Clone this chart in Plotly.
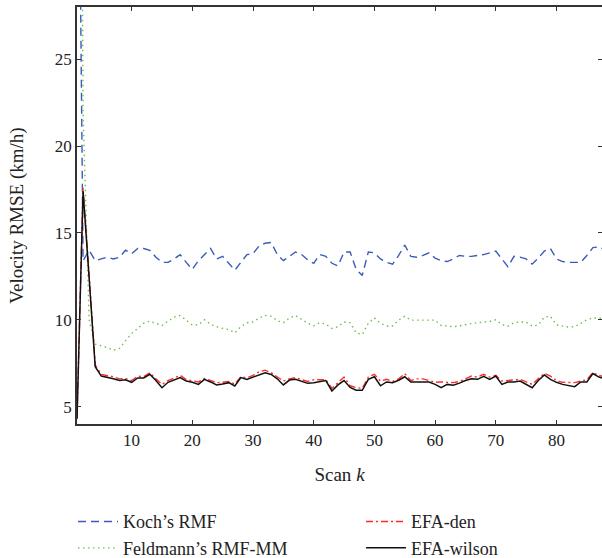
import plotly.graph_objects as go

scan_k = list(range(1, 89))

koch_rmf = [50.0, 13.4, 14.0, 13.4, 13.5, 13.6, 13.5, 13.6, 14.0, 13.8,
            14.1, 14.1, 14.0, 13.6, 13.3, 13.3, 13.5, 13.75, 13.3, 12.9,
            13.4, 13.75, 14.1, 13.5, 13.65, 13.25, 12.85, 13.3, 13.75, 13.8,
            14.25, 14.4, 14.45, 13.75, 13.4, 13.65, 13.9, 13.75, 13.45, 13.25,
            13.75, 13.65, 13.25, 13.1, 13.9, 13.9, 12.9, 12.55, 13.9, 13.85,
            13.5, 13.3, 13.2, 13.7, 14.3, 13.65, 13.6, 13.7, 13.85, 13.55,
            13.4, 13.35, 13.5, 13.7, 13.65, 13.65, 13.7, 13.75, 13.85, 13.95,
            13.5, 13.05, 13.65, 13.6, 13.5, 13.2, 13.55, 13.95, 14.1, 13.5,
            13.35, 13.3, 13.3, 13.3, 13.7, 14.15, 14.2, 14.0]

feldmann_rmf_mm = [90.0, 22.0, 10.0, 8.6, 8.5, 8.4, 8.25, 8.35, 8.8, 9.2,
                   9.5, 9.8, 9.92, 9.8, 9.67, 9.92, 10.15, 10.25, 9.95, 9.7,
                   9.7, 10.0, 9.75, 9.6, 9.5, 9.44, 9.25, 9.6, 9.83, 9.87,
                   10.1, 10.25, 10.2, 9.95, 9.83, 10.1, 10.25, 10.0, 9.8, 9.65,
                   9.83, 9.75, 9.5, 9.6, 9.87, 9.83, 9.25, 9.15, 9.8, 10.11,
                   9.8, 9.64, 9.64, 9.98, 10.2, 9.98, 9.98, 10.0, 10.02, 9.98,
                   9.67, 9.63, 9.6, 9.65, 9.73, 9.78, 9.83, 9.87, 9.9, 10.0,
                   9.73, 9.63, 9.83, 9.87, 9.87, 9.63, 9.7, 10.15, 10.2, 9.7,
                   9.65, 9.58, 9.6, 9.8, 10.0, 10.1, 10.1, 10.05]

efa_den = [4.3, 17.6, 12.6, 7.4, 6.85, 6.8, 6.72, 6.6, 6.62, 6.5,
           6.75, 6.72, 6.95, 6.6, 6.28, 6.5, 6.65, 6.8, 6.55, 6.5,
           6.42, 6.62, 6.5, 6.38, 6.4, 6.45, 6.3, 6.72, 6.65, 6.8,
           7.0, 7.1, 6.95, 6.7, 6.47, 6.6, 6.67, 6.55, 6.45, 6.55,
           6.55, 6.55, 6.05, 6.35, 6.7, 6.2, 6.1, 6.05, 6.7, 6.86,
           6.47, 6.57, 6.45, 6.6, 6.9, 6.5, 6.6, 6.6, 6.5, 6.4,
           6.42, 6.38, 6.38, 6.45, 6.6, 6.76, 6.7, 6.86, 6.7, 6.8,
           6.47, 6.5, 6.57, 6.57, 6.42, 6.28, 6.6, 6.91, 6.76, 6.5,
           6.4, 6.38, 6.38, 6.47, 6.55, 6.95, 6.8, 6.7]

efa_wilson = [4.3, 17.4, 12.4, 7.3, 6.76, 6.7, 6.6, 6.5, 6.55, 6.4,
              6.65, 6.65, 6.86, 6.5, 6.09, 6.4, 6.55, 6.67, 6.47, 6.4,
              6.28, 6.57, 6.42, 6.25, 6.3, 6.38, 6.19, 6.67, 6.57, 6.7,
              6.86, 6.95, 6.85, 6.6, 6.25, 6.53, 6.57, 6.45, 6.34, 6.38,
              6.42, 6.5, 5.9, 6.25, 6.5, 6.1, 5.94, 5.94, 6.57, 6.72,
              6.2, 6.42, 6.38, 6.52, 6.72, 6.42, 6.42, 6.42, 6.42, 6.28,
              6.09, 6.28, 6.23, 6.35, 6.5, 6.6, 6.57, 6.75, 6.57, 6.76,
              6.28, 6.42, 6.42, 6.47, 6.3, 6.09, 6.5, 6.82, 6.57, 6.4,
              6.28, 6.22, 6.15, 6.42, 6.42, 6.9, 6.7, 6.6]

x_ticks = [10, 20, 30, 40, 50, 60, 70, 80]
y_ticks = [5, 10, 15, 20, 25]

FONT = "Liberation Serif"

fig = go.Figure()
fig.add_trace(go.Scatter(x=scan_k, y=koch_rmf, mode="lines", name="Koch’s RMF",
                         line=dict(color="#3a5cb8", width=1.4, dash="8px,5px"),
                         legendrank=1))
fig.add_trace(go.Scatter(x=scan_k, y=feldmann_rmf_mm, mode="lines", name="Feldmann’s RMF-MM",
                         line=dict(color="#6cc04a", width=1.4, dash="1.5px,3.5px"),
                         legendrank=3))
fig.add_trace(go.Scatter(x=scan_k, y=efa_den, mode="lines", name="EFA-den",
                         line=dict(color="#ff2a2a", width=1.4, dash="7px,3px,2px,3px"),
                         legendrank=2))
fig.add_trace(go.Scatter(x=scan_k, y=efa_wilson, mode="lines", name="EFA-wilson",
                         line=dict(color="#111111", width=1.5),
                         legendrank=4))

fig.update_layout(
    width=602, height=558,
    margin=dict(l=77, r=0, t=7, b=134, autoexpand=False),
    paper_bgcolor="white", plot_bgcolor="white",
    font=dict(family=FONT, size=17, color="#222222"),
    showlegend=True,
    legend=dict(orientation="h", x=-0.0076, xanchor="left", y=-0.19, yanchor="top",
                entrywidth=233, entrywidthmode="pixels", itemwidth=40,
                font=dict(family=FONT, size=18, color="#222222"),
                bgcolor="rgba(0,0,0,0)", traceorder="normal"),
    xaxis=dict(range=[1, 87.5], tickvals=x_ticks, ticks="inside", ticklen=4,
               tickcolor="#333333", showline=True, linecolor="#333333", linewidth=1.5,
               mirror="allticks", showgrid=False, zeroline=False,
               tickfont=dict(family=FONT, size=17),
               title=dict(text="Scan <i>k</i>", standoff=19,
                          font=dict(family=FONT, size=19))),
    yaxis=dict(range=[4, 28], tickvals=y_ticks, ticks="inside", ticklen=4,
               tickcolor="#333333", showline=True, linecolor="#333333", linewidth=1.5,
               mirror="allticks", showgrid=False, zeroline=False,
               tickfont=dict(family=FONT, size=17),
               title=dict(text="Velocity RMSE (km/h)", standoff=26,
                          font=dict(family=FONT, size=19))),
)

fig.write_html("out.html")
